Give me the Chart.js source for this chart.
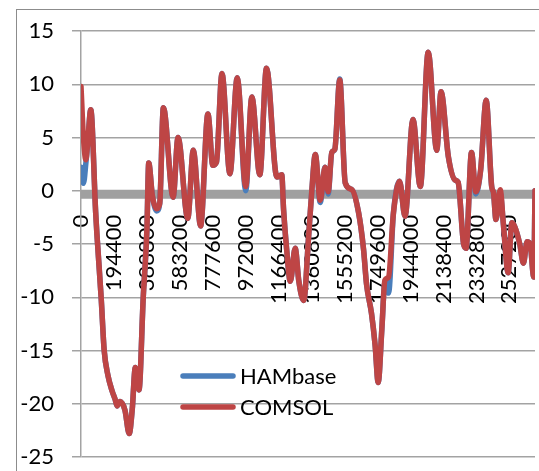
<!DOCTYPE html>
<html>
<head>
<meta charset="utf-8">
<script src="https://cdn.jsdelivr.net/npm/chart.js@4.4.1/dist/chart.umd.min.js"></script>
<style>
  html, body { margin: 0; padding: 0; background: #ffffff; }
  #wrap { position: relative; width: 539px; height: 471px; }
</style>
</head>
<body>
<div id="wrap"><canvas id="chart" width="539" height="471"></canvas></div>
<script>
// Elapsed time of each sample, in hours (the axis is labelled in seconds)
const hours = [
  0, 4, 8, 11, 16, 24, 26, 33, 38, 44, 51, 56, 59, 64, 72, 79, 84, 89, 95, 102,
  108, 111, 117, 124, 129, 135, 151, 159, 175, 184, 196, 208, 216, 222, 231, 244, 256, 270, 280, 293,
  304, 321, 329, 332, 337, 343, 351, 357, 365, 373, 378, 384, 392, 400, 405, 411, 416, 424, 433, 444,
  455, 463, 468, 476, 482, 487, 493, 498, 504, 512, 522, 531, 544, 556, 569, 583, 590, 602, 613, 618,
  627, 631, 640, 647, 655, 664, 673, 676, 680, 687, 692, 700, 706, 711, 719, 725, 731, 736, 742, 744
];

// COMSOL result
const comsol = [
  9.8, 5.0, 2.9, 4.5, 7.6, -2.0, -4.0, -10.0, -15.0, -17.3, -18.8, -19.6, -20.2, -19.8, -20.6, -22.8, -20.5, -16.6, -18.7, -10.0,
  -3.7, 2.6, -0.5, -1.7, -1.2, 7.8, -0.6, 5.0, -2.6, 3.8, -3.3, 7.2, 2.4, 2.7, 11.0, 1.6, 10.6, 0.4, 8.8, 1.5,
  11.5, 1.3, 1.5, -1.8, -5.5, -8.5, -5.4, -8.5, -10.3, -4.3, -0.2, 3.4, -0.9, 2.2, -0.1, 3.6, 3.9, 10.4, 0.75, 0.1,
  -2.1, -5.5, -8.8, -11.5, -14.5, -18.0, -13.0, -8.4, -8.1, -2.1, 0.9, -2.4, 6.7, 0.4, 13.0, 3.8, 9.3, 3.2, 1.0, 0.8,
  -5.0, -5.4, 3.6, -0.1, 2.0, 8.5, 0.4, -0.2, -2.7, 0.1, -3.0, -7.7, -3.0, -3.4, -5.0, -6.8, -4.8, -5.0, -8.1, 0.0
];

// HAMbase result
const hambase = [
  2.2, 0.7, 2.6, 4.5, 7.6, -2.0, -4.0, -10.0, -15.0, -17.3, -18.8, -19.6, -20.2, -19.8, -20.6, -22.8, -20.5, -16.6, -18.7, -10.0,
  -3.7, 2.6, -0.5, -1.9, -1.2, 7.8, -0.6, 5.0, -2.6, 3.8, -3.3, 7.2, 2.4, 2.7, 11.0, 1.6, 10.6, 0.0, 8.8, 1.5,
  11.5, 1.3, 1.5, -1.8, -5.5, -8.5, -5.4, -8.5, -10.3, -4.3, -0.2, 3.4, -1.1, 2.2, -0.3, 3.6, 3.9, 10.5, 0.75, 0.1,
  -2.1, -5.5, -8.8, -11.5, -14.5, -18.0, -13.0, -8.6, -9.6, -2.1, 0.9, -2.4, 6.7, 0.4, 13.0, 3.8, 9.3, 3.2, 1.0, 0.8,
  -5.0, -5.4, 3.6, -0.3, 2.0, 8.5, 0.4, -0.2, -2.7, -0.2, -3.0, -7.7, -3.0, -3.4, -5.0, -6.8, -4.8, -5.0, -8.1, 0.0
];

// Time axis labels (seconds)
const xTickValues = [0, 194400, 388800, 583200, 777600, 972000, 1166400,
  1360800, 1555200, 1749600, 1944000, 2138400, 2332800, 2527200];
const xMax = 2678400;

const yMin = -25, yMax = 15, yStep = 5;

const FONT = 'Lato, "Liberation Sans", Arial, sans-serif';
const GRID = '#a3a3a3';
const LINE_W = 5.5;

const toPoints = vals => vals.map((v, i) => ({ x: hours[i] * 3600, y: v }));

// white page and the outer chart frame
const framePlugin = {
  id: 'frame',
  beforeDraw(chart) {
    const ctx = chart.ctx;
    ctx.save();
    ctx.fillStyle = '#ffffff';
    ctx.fillRect(0, 0, chart.width, chart.height);
    ctx.strokeStyle = '#8c8c8c';
    ctx.lineWidth = 1;
    ctx.strokeRect(16.5, 9.5, chart.width + 20, chart.height + 20);
    ctx.restore();
  }
};

// heavy horizontal axis line along the zero value
const zeroAxisPlugin = {
  id: 'zeroAxis',
  beforeDatasetsDraw(chart) {
    const { ctx, chartArea, scales } = chart;
    const y0 = scales.y.getPixelForValue(0);
    ctx.save();
    ctx.fillStyle = '#a0a0a0';
    ctx.fillRect(chartArea.left, y0 - 1, chartArea.right - chartArea.left, 9);
    ctx.restore();
  }
};

// legend drawn inside the plot area
const innerLegendPlugin = {
  id: 'innerLegend',
  afterDraw(chart) {
    const ctx = chart.ctx;
    const rows = [
      { ds: chart.data.datasets[0], y: 376 },
      { ds: chart.data.datasets[1], y: 407 }
    ];
    ctx.save();
    ctx.font = '22px ' + FONT;
    ctx.textBaseline = 'middle';
    ctx.textAlign = 'left';
    rows.forEach(r => {
      ctx.strokeStyle = r.ds.borderColor;
      ctx.lineWidth = LINE_W;
      ctx.lineCap = 'round';
      ctx.beginPath();
      ctx.moveTo(183, r.y);
      ctx.lineTo(233, r.y);
      ctx.stroke();
      ctx.fillStyle = '#000000';
      ctx.fillText(r.ds.label, 240, r.y + 1);
    });
    ctx.restore();
  }
};

new Chart(document.getElementById('chart'), {
  type: 'line',
  data: {
    datasets: [
      {
        label: 'HAMbase',
        data: toPoints(hambase),
        borderColor: '#4a7ebb',
        borderWidth: LINE_W,
        pointRadius: 0,
        cubicInterpolationMode: 'monotone',
        borderJoinStyle: 'round',
        borderCapStyle: 'round',
        order: 2
      },
      {
        label: 'COMSOL',
        data: toPoints(comsol),
        borderColor: '#be4545',
        borderWidth: LINE_W,
        pointRadius: 0,
        cubicInterpolationMode: 'monotone',
        borderJoinStyle: 'round',
        borderCapStyle: 'round',
        order: 1
      }
    ]
  },
  options: {
    responsive: false,
    animation: false,
    devicePixelRatio: 1,
    layout: { padding: { top: 31, right: 4, bottom: 14, left: 0 } },
    plugins: {
      legend: { display: false },
      tooltip: { enabled: false }
    },
    scales: {
      x: {
        type: 'linear',
        position: { y: 0 },
        min: 0,
        max: xMax,
        afterBuildTicks(scale) {
          scale.ticks = xTickValues.map(v => ({ value: v }));
        },
        afterFit(scale) {
          scale.paddingLeft = 0;
          scale.paddingRight = 0;
        },
        ticks: {
          autoSkip: false,
          minRotation: 90,
          maxRotation: 90,
          padding: 16,
          color: '#000000',
          font: { family: FONT, size: 22 },
          callback: v => String(v)
        },
        grid: { display: false },
        border: { display: false }
      },
      y: {
        min: yMin,
        max: yMax,
        afterFit(scale) {
          scale.width = 81;
          scale.paddingTop = 0;
          scale.paddingBottom = 0;
        },
        ticks: {
          stepSize: yStep,
          padding: 18,
          color: '#000000',
          font: { family: FONT, size: 22 }
        },
        grid: { color: GRID, lineWidth: 1.5, tickLength: 9, drawTicks: true },
        border: { color: GRID, width: 1.5 }
      }
    }
  },
  plugins: [framePlugin, zeroAxisPlugin, innerLegendPlugin]
});
</script>
</body>
</html>
